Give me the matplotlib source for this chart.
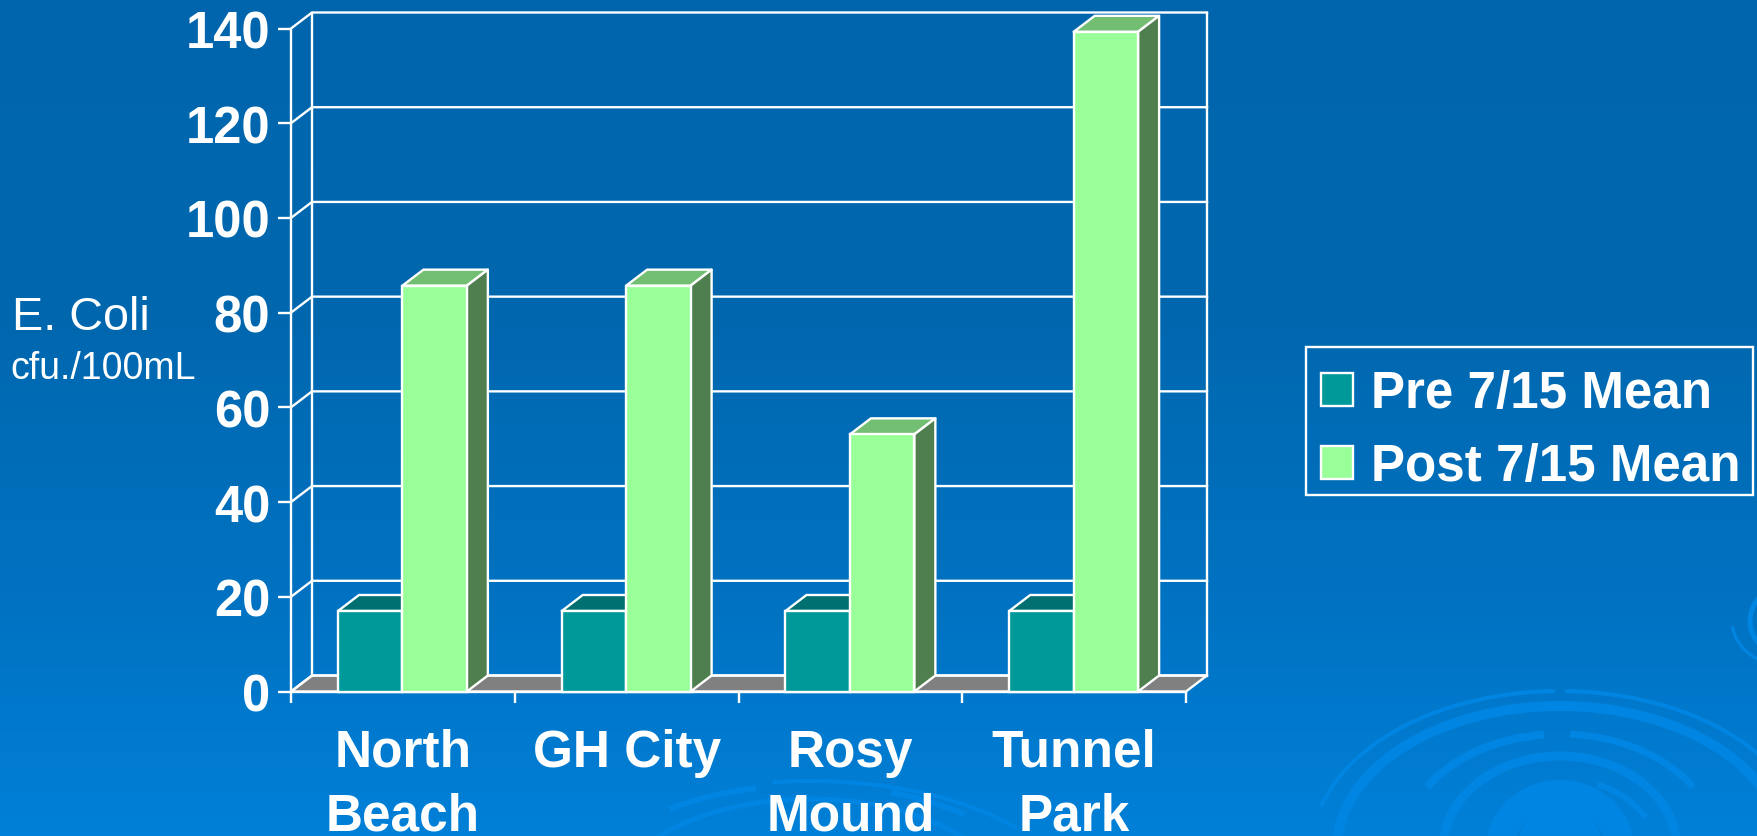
"""
E. Coli means per beach, pre and post 7/15, fake 3D column chart
"""

#=================================================
#IMPORTS
#=================================================
import numpy as np
from matplotlib import pyplot as plt
from matplotlib.patches import Arc, Polygon, Patch, Rectangle

#=================================================
#DATA
#=================================================
sites = ['North\nBeach', 'GH City', 'Rosy\nMound', 'Tunnel\nPark']
pre_mean = [17, 17, 17, 17]
post_mean = [85.7, 85.7, 54.3, 139.3]
y_ticks = [0, 20, 40, 60, 80, 100, 120, 140]
legend_labels = ['Pre 7/15 Mean', 'Post 7/15 Mean']

#=================================================
#STYLE
#=================================================
W, H = 1757, 837
FONT = 'Liberation Sans'
WHITE = 'white'
LW = 1.7

PRE = {'front': '#009999', 'top': '#006F6F', 'side': '#004D4D'}
POST = {'front': '#99FF99', 'top': '#72BE72', 'side': '#4F7F4F'}
FLOOR = '#808080'
RING = '#0085E2'

#axes frame, in pixels of the figure
AX_LEFT, AX_RIGHT, AX_TOP, AX_BOTTOM = 291, 1186, 29.5, 692.5

#3D depth, in data units (21 px across, 16 px up)
DEPTH_X = 21 / ((AX_RIGHT - AX_LEFT) / 4)
DEPTH_Y = 16 / ((AX_BOTTOM - AX_TOP) / 140)

BAR_W = 0.288
BAR_START = 0.21

#the swirls in the slide background: cx, cy, a, b, theta1, theta2, width px
swirl_arcs = [
    (1560, 850, 223, 143, 180, 360, 10),
    (1560, 850, 248, 158, 190, 268, 4),
    (1560, 850, 248, 158, 272, 350, 4),
    (1560, 850, 158, 115, 205, 262, 8),
    (1560, 850, 158, 115, 275, 335, 7),
    (1560, 850, 117, 93, 180, 360, 9),
    (1560, 850, 96, 70, 300, 340, 6),
    (1560, 850, 60, 55, 180, 360, 28),
    (1560, 850, 25, 30, 0, 360, 34),
    (810, 905, 262, 123, 253, 340, 4),
    (810, 905, 234, 119, 214, 245, 6),
    (810, 905, 234, 119, 306, 330, 6),
    (810, 905, 197, 105, 200, 340, 5),
    (1790, 622, 40, 36, 100, 235, 5),
    (1790, 622, 24, 24, 120, 230, 3),
    (1790, 622, 58, 46, 125, 175, 3),
]

#=================================================
#PLOT FUNCTIONS
#=================================================

def draw_background(fig):
    """Draw the blue slide gradient and the swirls

    :param fig: The figure to draw on
    """
    bg = fig.add_axes([0, 0, 1, 1], zorder=0)
    t = np.linspace(0, 1, H)
    stops = [0, 0.4, 0.74, 1]
    green = np.interp(t, stops, [101, 104, 115, 128])
    blue = np.interp(t, stops, [172, 176, 195, 216])
    grad = np.stack([np.zeros(H), green, blue], axis=1)[:, None, :] / 255
    bg.imshow(grad, extent=(0, W, H, 0), aspect='auto')
    for cx, cy, a, b, t1, t2, width in swirl_arcs:
        bg.add_patch(Arc((cx, cy), 2 * a, 2 * b, theta1=t1, theta2=t2,
                         color=RING, lw=width * 0.72))
    bg.set_xlim(0, W)
    bg.set_ylim(H, 0)
    bg.axis('off')


def draw_box(ax, x, width, value, colors, z):
    """Draw one column: front through ax.bar, top and side as polygons

    :param ax: The chart axes
    :param x: Left edge of the column
    :param width: Column width
    :param value: Column value
    :param colors: Dict with front, top and side colors
    :param z: zorder of the column
    """
    top = [(x, value), (x + width, value),
           (x + width + DEPTH_X, value + DEPTH_Y), (x + DEPTH_X, value + DEPTH_Y)]
    side = [(x + width, 0), (x + width + DEPTH_X, DEPTH_Y),
            (x + width + DEPTH_X, value + DEPTH_Y), (x + width, value)]
    for pts, col in ((top, colors['top']), (side, colors['side'])):
        ax.add_patch(Polygon(pts, closed=True, facecolor=col, edgecolor=WHITE,
                             lw=LW, zorder=z, clip_on=False, joinstyle='round'))
    ax.bar(x, value, width, align='edge', color=colors['front'], edgecolor=WHITE,
           lw=LW, zorder=z + 0.1, clip_on=False)


def draw_walls(ax):
    """Draw the floor, the back wall grid and the side wall lines

    :param ax: The chart axes
    """
    n = len(sites)
    ax.add_patch(Polygon([(0, 0), (n, 0), (n + DEPTH_X, DEPTH_Y), (DEPTH_X, DEPTH_Y)],
                         closed=True, facecolor=FLOOR, edgecolor=WHITE, lw=LW,
                         zorder=1, clip_on=False))
    for v in y_ticks:
        ax.plot([0, DEPTH_X, n + DEPTH_X], [v, v + DEPTH_Y, v + DEPTH_Y],
                color=WHITE, lw=LW, zorder=1.5, clip_on=False)
    ax.plot([DEPTH_X, DEPTH_X], [DEPTH_Y, y_ticks[-1] + DEPTH_Y],
            color=WHITE, lw=LW, zorder=1.5, clip_on=False)
    ax.plot([n + DEPTH_X, n + DEPTH_X], [DEPTH_Y, y_ticks[-1] + DEPTH_Y],
            color=WHITE, lw=LW, zorder=1.5, clip_on=False)


def plot_chart():
    """Plot the whole slide and save it to out.png
    """
    fig = plt.figure(figsize=(W / 100, H / 100), dpi=100)
    draw_background(fig)

    ax = fig.add_axes([AX_LEFT / W, 1 - AX_BOTTOM / H,
                       (AX_RIGHT - AX_LEFT) / W, (AX_BOTTOM - AX_TOP) / H], zorder=1)
    ax.patch.set_alpha(0)

    draw_walls(ax)
    for i in range(0, len(sites)):
        z = 3 + i
        draw_box(ax, i + BAR_START, BAR_W, pre_mean[i], PRE, z)
        draw_box(ax, i + BAR_START + BAR_W, BAR_W, post_mean[i], POST, z + 0.3)

    ax.set_xlim(0, len(sites))
    ax.set_ylim(0, 140)

    #y axis
    ax.set_yticks(y_ticks)
    ax.set_yticklabels([str(v) for v in y_ticks], fontsize=36.5, fontweight='bold',
                       fontfamily=FONT, color=WHITE)
    ax.tick_params(axis='y', length=9.4, width=LW, color=WHITE, pad=5.5)

    #x axis: ticks on the category edges, labels on the centres
    ax.set_xticks(np.arange(len(sites) + 1), minor=True)
    ax.set_xticks(np.arange(len(sites)) + 0.5)
    ax.set_xticklabels(sites, fontsize=37, fontweight='bold', fontfamily=FONT,
                       color=WHITE, linespacing=1.38)
    ax.tick_params(axis='x', which='major', length=0, pad=26)
    ax.tick_params(axis='x', which='minor', length=8, width=LW, color=WHITE)

    for name in ('top', 'right'):
        ax.spines[name].set_visible(False)
    for name in ('left', 'bottom'):
        ax.spines[name].set_color(WHITE)
        ax.spines[name].set_linewidth(LW)
        ax.spines[name].set_zorder(2)

    #axis title
    fig.text(12 / W, 1 - 330 / H, 'E. Coli', color=WHITE, fontsize=33.7, fontfamily=FONT,
             va='baseline', ha='left')
    fig.text(10 / W, 1 - 379 / H, 'cfu./100mL', color=WHITE, fontsize=27, fontfamily=FONT,
             va='baseline', ha='left')

    #legend, the box around it is drawn apart because its padding differs per side
    fig.add_artist(Rectangle((1306 / W, 1 - 496 / H), 447 / W, 148 / H, facecolor='none',
                             edgecolor=WHITE, lw=LW, transform=fig.transFigure))
    handles = [Patch(facecolor=PRE['front'], edgecolor=WHITE, lw=LW),
               Patch(facecolor=POST['front'], edgecolor=WHITE, lw=LW)]
    leg = fig.legend(handles, legend_labels, loc='upper left',
                     bbox_to_anchor=(1306 / W, 1 - 355 / H), borderaxespad=0,
                     prop={'family': FONT, 'weight': 'bold', 'size': 36.8},
                     frameon=False, handlelength=0.62, handleheight=0.62,
                     handletextpad=0.35, labelspacing=0.47, borderpad=0.3)
    for text in leg.get_texts():
        text.set_color(WHITE)

    fig.savefig('out.png', dpi=100)


#=================================================
#MAIN
#=================================================
if __name__ == "__main__":
    plot_chart()
